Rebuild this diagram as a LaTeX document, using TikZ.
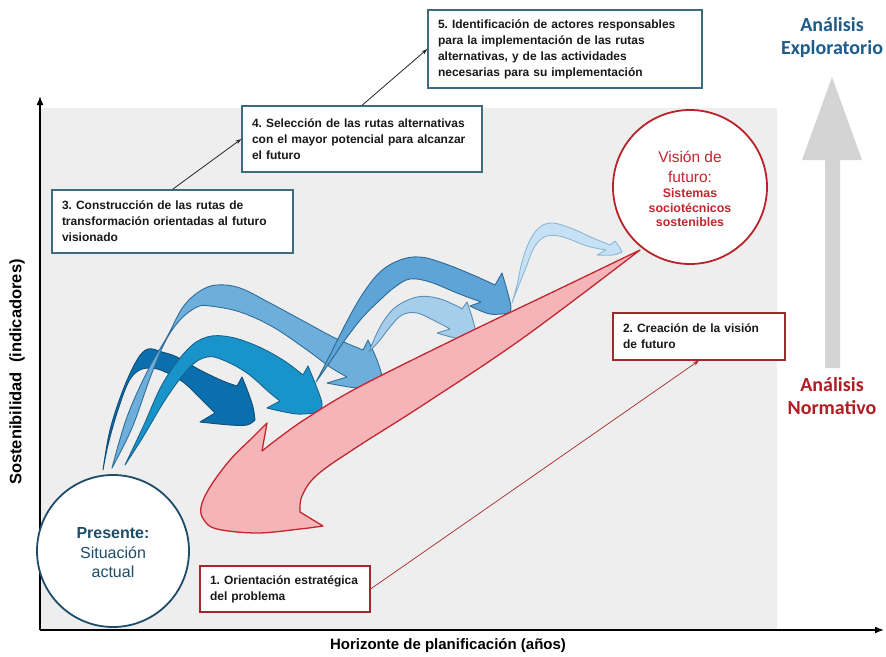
\documentclass[tikz,border=0pt]{standalone}
\usepackage{fontspec}
\setmainfont{Liberation Sans}
\newfontfamily\calfont{Carlito}
\usetikzlibrary{arrows.meta}
\definecolor{bggray}{HTML}{EFEEEE}
\definecolor{boxblue}{HTML}{3E6B80}
\definecolor{boxred}{HTML}{A3282C}
\definecolor{presblue}{HTML}{1D4D68}
\definecolor{visred}{HTML}{B8232A}
\definecolor{vistext}{HTML}{C1272D}
\definecolor{explcol}{HTML}{1D5C8A}
\definecolor{normcol}{HTML}{B01E24}
\definecolor{graybig}{HTML}{D4D4D4}
\definecolor{redfill}{HTML}{F5B5B8}
\definecolor{redline}{HTML}{C3262E}
\definecolor{aFill}{HTML}{0B6EAD}\definecolor{aLine}{HTML}{0E4F7A}
\definecolor{bFill}{HTML}{6DAEDB}\definecolor{bLine}{HTML}{2F6E98}
\definecolor{cFill}{HTML}{1994CB}\definecolor{cLine}{HTML}{16648F}
\definecolor{dFill}{HTML}{5EA4D6}\definecolor{dLine}{HTML}{2C6A95}
\definecolor{eFill}{HTML}{A6CDEA}\definecolor{eLine}{HTML}{5B8FB8}
\definecolor{fFill}{HTML}{C6E1F3}\definecolor{fLine}{HTML}{8BB7D9}
\frenchspacing
\begin{document}
\begin{tikzpicture}[x=1pt,y=-1pt,
  boxbase/.style={line width=1.3pt, fill=white, inner xsep=10pt, inner ysep=0pt,
    align=left, text=black!90, font=\bfseries\fontsize{12}{16}\selectfont},
  bluebox/.style={boxbase, draw=boxblue},
  redbox/.style={boxbase, draw=boxred, line width=1.1pt},
  conn/.style={line width=0.8pt, -{Stealth[length=6pt,width=4pt]}},
  axis/.style={line width=1.5pt, -{Latex[length=9pt,width=7pt]}},
  swoosh/.style={line width=0.9pt, line join=round},
  sm/.style={smooth, tension=0.6}]
\useasboundingbox (0,0) rectangle (886,656);
% background
\fill[bggray] (40,108) rectangle (777,630);
% axes
\coordinate (o) at (40,630);
\coordinate (ytop) at (40,96);
\coordinate (xend) at (884,630);
\draw[axis] (o) -- (ytop);
\draw[axis] (o) -- (xend);
\node[font=\bfseries\fontsize{15}{18}\selectfont] (xl) at (448,646) {Horizonte de planificación (años)};
\node[rotate=90, font=\bfseries\fontsize{16.5}{19}\selectfont] (yl) at (17,372) {Sostenibilidad~~(indicadores)};

% big gray arrow
\fill[graybig] (825,368) -- (825,160) -- (802,160) -- (832,77) -- (862,160) -- (840,160) -- (840,368) -- cycle;
\node[font=\calfont\bfseries\fontsize{20}{23}\selectfont, text=explcol, align=center] (ex) at (832,38) {Análisis\\Exploratorio};
\node[font=\calfont\bfseries\fontsize{20}{23}\selectfont, text=normcol, align=center] (nor) at (832,396) {Análisis\\Normativo};

% arrow A (dark)
\filldraw[swoosh, fill=aFill, draw=aLine]
  plot[sm] coordinates {(103,470) (110,430) (123,390) (137,360) (148,349) (162,352) (177,357) (200,370) (223,381) (237,386)}
  -- plot[sm] coordinates {(242,377) (248,392) (253,407) (255,420)}
  -- plot[sm] coordinates {(255,420) (247,425) (230,425) (200,422)}
  -- plot[sm] coordinates {(215,413) (200,398) (183,382) (163,371) (150,368) (138,371) (128,383) (117,413) (108,445) (103,470)}
  -- cycle;
% arrow B
\filldraw[swoosh, fill=bFill, draw=bLine]
  plot[sm] coordinates {(112,468) (127,417) (148,370) (167,337) (183,307) (200,291) (217,285) (240,288) (270,303) (307,323) (335,338) (363,350)}
  -- plot[sm] coordinates {(368,340) (377,360) (382,377) (380,387)}
  -- plot[sm] coordinates {(380,387) (357,388) (327,383)}
  -- plot[sm] coordinates {(347,377) (330,367) (307,350) (273,327) (240,312) (210,306) (197,307) (180,320) (165,342) (150,378) (132,428) (112,468)}
  -- cycle;
% arrow C
\filldraw[swoosh, fill=cFill, draw=cLine]
  plot[sm] coordinates {(125,465) (143,427) (163,383) (187,350) (207,337) (230,337) (257,346) (283,360) (303,375)}
  -- plot[sm] coordinates {(308,366) (315,383) (322,403) (320,412)}
  -- plot[sm] coordinates {(320,412) (297,414) (267,408)}
  -- plot[sm] coordinates {(280,401) (270,393) (247,373) (223,360) (207,357) (190,367) (167,397) (143,437) (125,465)}
  -- cycle;
% arrow D
\filldraw[swoosh, fill=dFill, draw=dLine]
  plot[sm] coordinates {(316,382) (330,355) (345,325) (362,295) (380,272) (400,260) (420,257) (443,263) (473,275) (495,285)}
  -- plot[sm] coordinates {(502,273) (507,290) (511,307) (509,313)}
  -- plot[sm] coordinates {(509,313) (490,314) (470,306)}
  -- plot[sm] coordinates {(481,302) (457,293) (430,282) (410,279) (395,287) (380,300) (362,318) (345,340) (330,362) (316,382)}
  -- cycle;
% arrow E
\filldraw[swoosh, fill=eFill, draw=eLine]
  plot[sm] coordinates {(369,352) (376,335) (385,319) (397,306) (417,297) (437,298) (457,306) (462,309)}
  -- plot[sm] coordinates {(467,302) (472,317) (476,333) (475,338)}
  -- plot[sm] coordinates {(475,338) (460,339) (437,333)}
  -- plot[sm] coordinates {(450,329) (437,322) (417,313) (402,315) (390,327) (380,340) (369,352)}
  -- cycle;
% arrow F
\filldraw[swoosh, fill=fFill, draw=fLine]
  plot[sm] coordinates {(512,303) (517,285) (522,262) (530,240) (540,227) (553,223) (573,229) (593,238) (610,245)}
  -- plot[sm] coordinates {(615,241) (620,248) (622,252)}
  -- plot[sm] coordinates {(622,252) (613,255) (597,255)}
  -- plot[sm] coordinates {(606,250) (587,246) (563,237) (547,236) (535,246) (525,270) (515,295) (512,303)}
  -- cycle;
% red arrow
\filldraw[line width=1.3pt, line join=round, fill=redfill, draw=redline]
  plot[sm] coordinates {(640,250) (557,290) (457,338) (357,388) (307,418) (280,437) (262,451)}
  -- plot[sm] coordinates {(267,423) (253,437) (230,460) (210,487) (201,507) (204,520) (217,529) (257,533) (300,529) (323,526)}
  -- plot[sm] coordinates {(300,512) (302,496) (317,475) (357,447) (423,405) (523,338) (640,250)}
  -- cycle;

% circles
\node[circle, draw=presblue, line width=1.8pt, fill=white, minimum size=152pt, inner sep=0pt] (pres) at (113,551) {};
\node[align=center, text=presblue, font=\fontsize{16}{19.5}\selectfont] (prest) at (113,553) {\textbf{Presente:}\\Situación\\actual};
\node[circle, draw=visred, line width=1.8pt, fill=white, minimum size=154pt, inner sep=0pt] (vis) at (690,187) {};
\node[align=center, text=vistext, font=\fontsize{15.5}{19.5}\selectfont] (vist1) at (690,167) {Visión de\\futuro:};
\node[align=center, text=vistext, font=\bfseries\fontsize{12.4}{14.5}\selectfont] (vist2) at (690,208) {Sistemas\\sociotécnicos\\sostenibles};

% boxes
\node[bluebox, text width=254pt, minimum height=78pt] (b5) at (565,49) {5. Identificación de actores responsables\\para la implementación de las rutas\\alternativas, y de las actividades\\necesarias para su implementación};
\node[bluebox, text width=220pt, minimum height=66pt] (b4) at (362,139) {4. Selección de las rutas alternativas\\con el mayor potencial para alcanzar\\el futuro};
\node[bluebox, text width=221pt, minimum height=63pt] (b3) at (172.5,221.5) {3. Construcción de las rutas de\\transformación orientadas al futuro\\visionado};
\node[redbox, text width=152pt, minimum height=47pt] (b2) at (699,336.5) {2. Creación de la visión\\de futuro};
\node[redbox, text width=150pt, minimum height=46pt] (b1) at (285,589) {1. Orientación estratégica\\del problema};

% connectors
\draw[conn, black!85] (b3.north) -- (b4.west);
\draw[conn, black!85] (b4.north) -- (b5.west);
\draw[conn, boxred, line width=0.7pt] (b1.east) -- (b2.south);
\end{tikzpicture}
\end{document}
